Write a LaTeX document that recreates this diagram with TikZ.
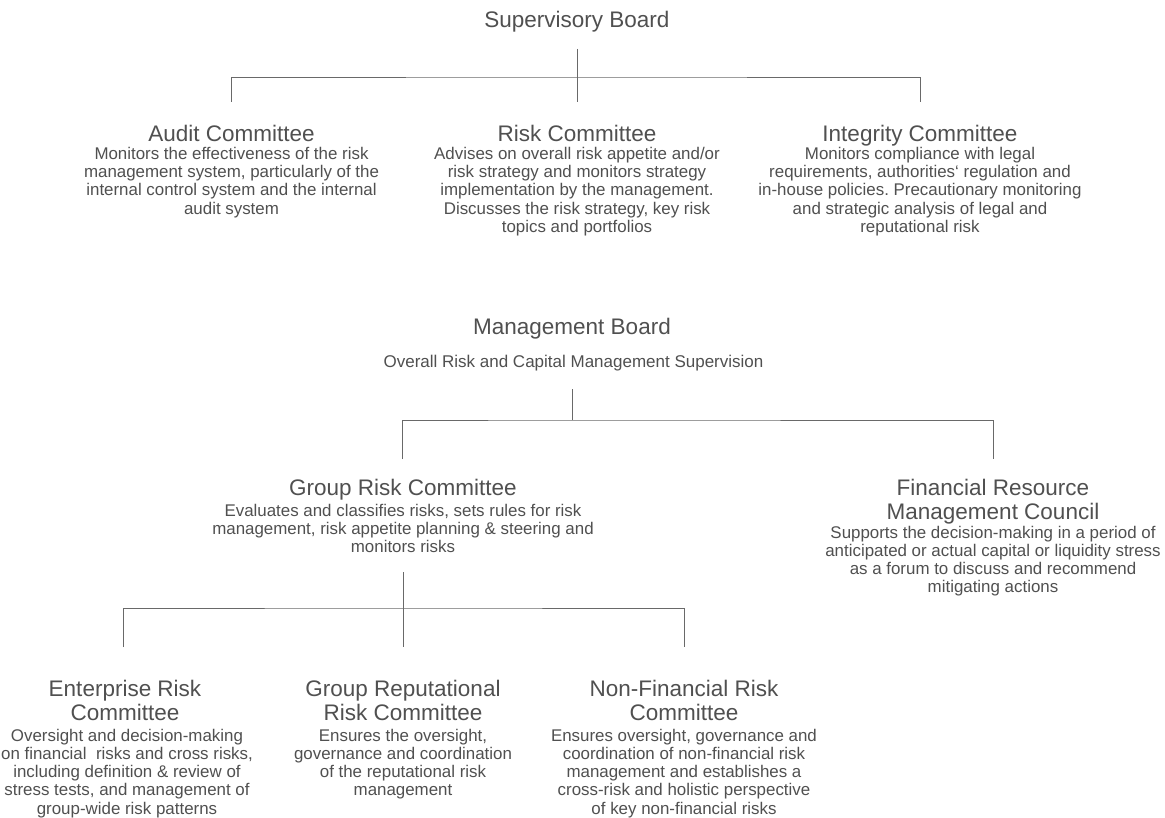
\documentclass[tikz,border=0pt]{standalone}
\usepackage{fontspec}
\setmainfont{Liberation Sans}
\frenchspacing
\definecolor{txt}{RGB}{80,80,80}
\definecolor{lncol}{RGB}{105,105,105}
\tikzset{
  ttl/.style={inner sep=0pt, outer sep=0pt, text=txt, font=\fontsize{22.5}{23}\selectfont\frenchspacing, align=center},
  bodytxt/.style={inner sep=0pt, outer sep=0pt, text=txt, font=\fontsize{16.9}{18.3}\selectfont\frenchspacing, align=center, anchor=north},
  subtxt/.style={inner sep=0pt, outer sep=0pt, text=txt, font=\fontsize{17}{19}\selectfont},
  ln/.style={draw=lncol, line width=0.8pt}
}
\begin{document}
\begin{tikzpicture}[x=1pt,y=-1pt]
\fill[white] (0,0) rectangle (1165,818);
\useasboundingbox (0,0) rectangle (1165,818);

% ---- Supervisory level
\node[ttl, anchor=base] (sb) at (577,28) {Supervisory Board};
\node[ttl, anchor=base] (audit) at (231.5,141.7) {Audit Committee};
\node[bodytxt] (auditb) at (231.5,159.3-12.81) {\strut Monitors the effectiveness of the risk\\management system, particularly of the\\internal control system and the internal\\audit system};
\node[ttl, anchor=base] (risk) at (577,141.7) {Risk Committee};
\node[bodytxt] (riskb) at (577,159.3-12.81) {\strut Advises on overall risk appetite and/or\\risk strategy and monitors strategy\\implementation by the management.\\Discusses the risk strategy, key risk\\topics and portfolios};
\node[ttl, anchor=base] (integ) at (920,141.7) {Integrity Committee};
\node[bodytxt] (integb) at (920,159.3-12.81) {\strut Monitors compliance with legal\\requirements, authorities‘ regulation and\\in-house policies. Precautionary monitoring\\and strategic analysis of legal and\\reputational risk};

\coordinate (sbtop) at (577,49);
\coordinate (sbj) at (577,77);
\coordinate (auditin) at (231.5,102);
\coordinate (riskin) at (577,102);
\coordinate (integin) at (920.5,102);
\draw[ln] (sbtop) -- (riskin);
\draw[ln] (auditin) |- (sbj) -| (integin);

% ---- Management level
\node[ttl, anchor=base] (mb) at (572,334.5) {Management Board};
\node[subtxt, anchor=base] (mbs) at (573.5,367.5) {Overall Risk and Capital Management Supervision};

\node[ttl, anchor=base] (grc) at (403,495) {Group Risk Committee};
\node[bodytxt] (grcb) at (403,516-12.81) {\strut Evaluates and classifies risks, sets rules for risk\\management, risk appetite planning \& steering and\\monitors risks};
\node[ttl, anchor=north] (frm) at (993,495-16.1) {\strut Financial Resource\\Management Council};
\node[bodytxt] (frmb) at (993,538-12.81) {\strut Supports the decision-making in a period of\\anticipated or actual capital or liquidity stress\\as a forum to discuss and recommend\\mitigating actions};

\coordinate (mbtop) at (572,389);
\coordinate (mbj) at (572,420);
\coordinate (grcin) at (402.5,459);
\coordinate (frmin) at (993,459);
\draw[ln] (mbtop) -- (mbj);
\draw[ln] (grcin) |- (mbj) -| (frmin);

% ---- Group risk level
\node[ttl, anchor=north] (erc) at (125,696-16.1) {\strut Enterprise Risk\\Committee};
\node[bodytxt] (ercb) at (127,741-12.81) {\strut Oversight and decision-making\\on financial\ \ risks and cross risks,\\including definition \& review of\\stress tests, and management of\\group-wide risk patterns};
\node[ttl, anchor=north] (grr) at (403,696-16.1) {\strut Group Reputational\\Risk Committee};
\node[bodytxt] (grrb) at (403,741-12.81) {\strut Ensures the oversight,\\governance and coordination\\of the reputational risk\\management};
\node[ttl, anchor=north] (nfr) at (684,696-16.1) {\strut Non-Financial Risk\\Committee};
\node[bodytxt] (nfrb) at (684,741-12.81) {\strut Ensures oversight, governance and\\coordination of non-financial risk\\management and establishes a\\cross-risk and holistic perspective\\of key non-financial risks};

\coordinate (grctop) at (403,572);
\coordinate (grcj) at (403,608);
\coordinate (ercin) at (123.5,647);
\coordinate (grrin) at (403,647);
\coordinate (nfrin) at (684,647);
\draw[ln] (grctop) -- (grrin);
\draw[ln] (ercin) |- (grcj) -| (nfrin);
\end{tikzpicture}
\end{document}
